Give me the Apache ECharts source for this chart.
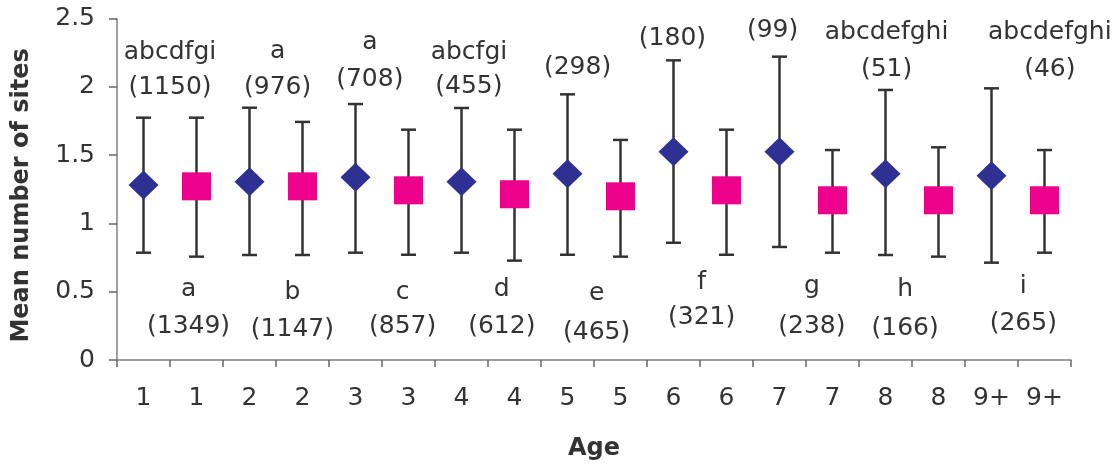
<!DOCTYPE html>
<html>
<head>
<meta charset="utf-8">
<script src="https://cdn.jsdelivr.net/npm/echarts@6/dist/echarts.min.js"></script>
<style>
html,body{margin:0;padding:0;background:#fff;}
#chart{width:1119px;height:466px;}
</style>
</head>
<body>
<div id="chart"></div>
<script>
// ---- data ----
const categories = ['1','1','2','2','3','3','4','4','5','5','6','6','7','7','8','8','9+','9+'];
// first series (diamonds) per age
const diamondMean  = [1.282, 1.306, 1.338, 1.306, 1.365, 1.526, 1.526, 1.365, 1.350];
const diamondUpper = [1.775, 1.848, 1.875, 1.846, 1.946, 2.195, 2.222, 1.978, 1.990];
const diamondLower = [0.786, 0.769, 0.786, 0.786, 0.771, 0.859, 0.828, 0.769, 0.713];
// second series (squares) per age
const squareMean  = [1.272, 1.272, 1.243, 1.214, 1.199, 1.243, 1.170, 1.170, 1.170];
const squareUpper = [1.775, 1.744, 1.687, 1.687, 1.612, 1.687, 1.538, 1.558, 1.538];
const squareLower = [0.757, 0.769, 0.771, 0.728, 0.757, 0.771, 0.786, 0.757, 0.786];
// annotation texts
const aboveLetters = ['abcdfgi','a','a','abcfgi','','','','abcdefghi','abcdefghi'];
const aboveCounts  = ['(1150)','(976)','(708)','(455)','(298)','(180)','(99)','(51)','(46)'];
const belowLetters = ['a','b','c','d','e','f','g','h','i'];
const belowCounts  = ['(1349)','(1147)','(857)','(612)','(465)','(321)','(238)','(166)','(265)'];

// ---- layout (annotation anchor positions, in axis units) ----
const aboveX       = [1.00, 3.03, 4.77, 6.64, 8.69, 10.48, 12.37, 14.52, 17.60];
const aboveLetterY = [2.249, 2.260, 2.325, 2.256, 0, 0, 0, 2.396, 2.396];
const aboveCountY  = [1.993, 1.993, 2.051, 2.000, 2.139, 2.357, 2.412, 2.125, 2.125];
const belowX       = [1.35, 3.31, 5.39, 7.26, 9.05, 11.03, 13.11, 14.87, 17.10];
const belowLetterY = [0.520, 0.491, 0.496, 0.513, 0.484, 0.571, 0.535, 0.513, 0.535];
const belowCountY  = [0.242, 0.220, 0.242, 0.242, 0.205, 0.308, 0.242, 0.234, 0.271];

const FONT = 'DejaVu Sans';
const TXT = '#333333';

const barData = [];
const diamondData = [];
const squareData = [];
diamondMean.forEach((v, i) => {
  diamondData.push([2 * i, v]);
  barData.push([2 * i, diamondLower[i], diamondUpper[i]]);
});
squareMean.forEach((v, i) => {
  squareData.push([2 * i + 1, v]);
  barData.push([2 * i + 1, squareLower[i], squareUpper[i]]);
});

const labelData = [];
function addLabels(texts, xs, ys) {
  texts.forEach((t, i) => { if (t) labelData.push({ name: t, value: [xs[i], ys[i]] }); });
}
addLabels(aboveLetters, aboveX, aboveLetterY);
addLabels(aboveCounts, aboveX, aboveCountY);
addLabels(belowLetters, belowX, belowLetterY);
addLabels(belowCounts, belowX, belowCountY);

const chart = echarts.init(document.getElementById('chart'), null, { renderer: 'canvas' });
chart.setOption({
  animation: false,
  backgroundColor: '#ffffff',
  grid: { left: 117, right: 48, top: 18.7, bottom: 105.5, containLabel: false },
  xAxis: [
    {
      type: 'category',
      data: categories,
      boundaryGap: true,
      axisLine: { lineStyle: { color: '#808080', width: 1.5 } },
      axisTick: { show: true, interval: 0, length: 7, lineStyle: { color: '#666', width: 1.5 } },
      axisLabel: { interval: 0, margin: 26, color: TXT, fontSize: 25, fontFamily: FONT },
      name: 'Age',
      nameLocation: 'middle',
      nameGap: 77,
      nameTextStyle: { color: TXT, fontSize: 24, fontWeight: 'bold', fontFamily: FONT }
    },
    { type: 'value', min: 0, max: 18, show: false }
  ],
  yAxis: {
    type: 'value',
    min: 0, max: 2.5, interval: 0.5,
    splitLine: { show: false },
    axisLine: { show: true, lineStyle: { color: '#808080', width: 1.5 } },
    axisTick: { show: true, length: 8, lineStyle: { color: '#666', width: 1.5 } },
    axisLabel: { margin: 22, color: TXT, fontSize: 25, fontFamily: FONT },
    name: 'Mean number of sites',
    nameLocation: 'middle',
    nameRotate: 90,
    nameGap: 83,
    nameTextStyle: { color: TXT, fontSize: 24, fontWeight: 'bold', fontFamily: FONT, padding: [0, 12, 0, 0] }
  },
  series: [
    {
      type: 'custom',
      xAxisIndex: 0,
      data: barData,
      encode: { x: 0, y: [1, 2] },
      z: 2,
      renderItem: function (params, api) {
        const lo = api.coord([api.value(0), api.value(1)]);
        const hi = api.coord([api.value(0), api.value(2)]);
        const x = lo[0];
        const cap = 7.5;
        const st = { stroke: '#333333', lineWidth: 2.5 };
        return {
          type: 'group',
          children: [
            { type: 'line', shape: { x1: x, y1: hi[1], x2: x, y2: lo[1] }, style: st },
            { type: 'line', shape: { x1: x - cap, y1: hi[1], x2: x + cap, y2: hi[1] }, style: st },
            { type: 'line', shape: { x1: x - cap, y1: lo[1], x2: x + cap, y2: lo[1] }, style: st }
          ]
        };
      }
    },
    {
      type: 'scatter',
      xAxisIndex: 0,
      data: diamondData,
      symbol: 'diamond',
      symbolSize: [30, 29],
      itemStyle: { color: '#2e3192', opacity: 1 },
      z: 5
    },
    {
      type: 'scatter',
      xAxisIndex: 0,
      data: squareData,
      symbol: 'rect',
      symbolSize: [29, 28],
      itemStyle: { color: '#ec008c', opacity: 1 },
      z: 5
    },
    {
      type: 'scatter',
      xAxisIndex: 1,
      data: labelData,
      symbolSize: 0,
      silent: true,
      z: 6,
      itemStyle: { opacity: 1, color: 'transparent' },
      label: {
        show: true,
        position: 'inside',
        formatter: '{b}',
        color: TXT,
        opacity: 1,
        fontSize: 25,
        fontFamily: FONT
      }
    }
  ]
});
</script>
</body>
</html>
